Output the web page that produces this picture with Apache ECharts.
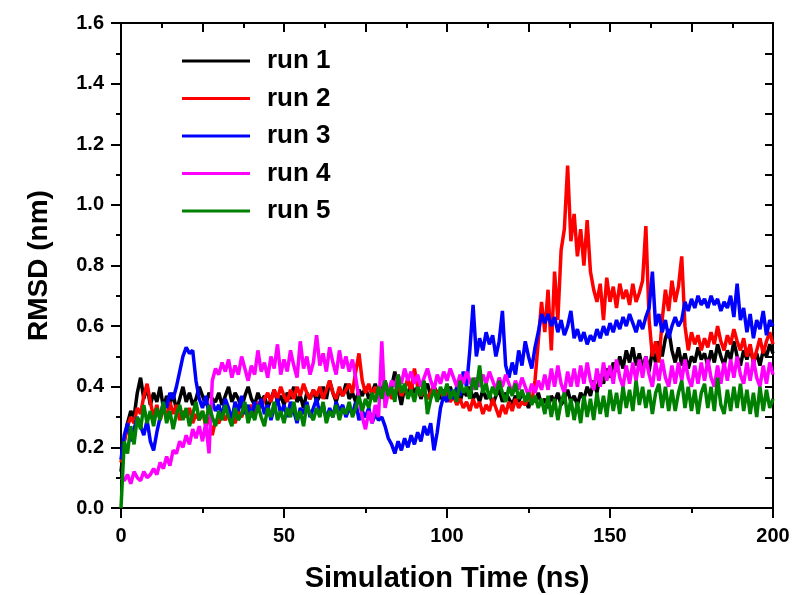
<!DOCTYPE html>
<html>
<head>
<meta charset="utf-8">
<script src="https://cdn.jsdelivr.net/npm/echarts@6/dist/echarts.min.js"></script>
<style>
html,body{margin:0;padding:0;background:#fff;}
#chart{width:796px;height:595px;}
</style>
</head>
<body>
<div id="chart"></div>
<script>
// Sampling step of the trajectories (ns); value i belongs to time i * TIME_STEP_NS
const TIME_STEP_NS = 1;
const seriesNames = ['run 1', 'run 2', 'run 3', 'run 4', 'run 5'];
const seriesColors = ['#000000', '#ff0000', '#0000ff', '#ff00ff', '#008000'];
const xTicks = [0, 50, 100, 150, 200];
const yTicks = [0.0, 0.2, 0.4, 0.6, 0.8, 1.0, 1.2, 1.4, 1.6];

const run1 = [
0.12,0.22,0.28,0.32,0.30,0.38,0.43,0.36,0.40,0.34,
0.38,0.35,0.40,0.33,0.37,0.34,0.38,0.32,0.36,0.40,
0.35,0.38,0.34,0.36,0.40,0.37,0.34,0.38,0.36,0.35,
0.38,0.34,0.37,0.40,0.35,0.38,0.36,0.33,0.37,0.40,
0.36,0.34,0.38,0.35,0.37,0.33,0.36,0.39,0.35,0.37,
0.34,0.38,0.36,0.40,0.35,0.37,0.33,0.38,0.36,0.39,
0.35,0.37,0.40,0.36,0.42,0.38,0.35,0.39,0.37,0.41,
0.36,0.38,0.35,0.39,0.37,0.40,0.36,0.38,0.41,0.37,
0.39,0.42,0.38,0.40,0.45,0.39,0.34,0.40,0.37,0.41,
0.38,0.40,0.36,0.39,0.41,0.37,0.40,0.38,0.36,0.39,
0.37,0.40,0.36,0.38,0.35,0.39,0.37,0.40,0.36,0.38,
0.35,0.39,0.36,0.38,0.34,0.37,0.39,0.35,0.38,0.36,
0.34,0.37,0.35,0.38,0.36,0.33,0.37,0.35,0.38,0.34,
0.36,0.33,0.37,0.35,0.38,0.34,0.36,0.39,0.35,0.37,
0.34,0.38,0.36,0.40,0.37,0.42,0.38,0.44,0.41,0.46,
0.43,0.48,0.45,0.50,0.46,0.52,0.48,0.53,0.47,0.51,
0.46,0.50,0.45,0.52,0.48,0.55,0.50,0.56,0.59,0.52,
0.48,0.53,0.47,0.51,0.46,0.50,0.48,0.53,0.49,0.51,
0.47,0.52,0.48,0.54,0.50,0.47,0.52,0.49,0.55,0.50,
0.47,0.52,0.49,0.53,0.48,0.51,0.47,0.52,0.50,0.54,
0.51];

const run2 = [
0.15,0.22,0.27,0.30,0.28,0.33,0.31,0.37,0.41,0.35,
0.30,0.34,0.29,0.33,0.30,0.35,0.31,0.34,0.29,0.32,
0.30,0.33,0.28,0.31,0.29,0.32,0.27,0.30,0.24,0.29,
0.28,0.31,0.29,0.32,0.30,0.28,0.32,0.30,0.33,0.31,
0.34,0.31,0.35,0.33,0.36,0.38,0.35,0.39,0.36,0.40,
0.37,0.35,0.39,0.36,0.40,0.37,0.41,0.38,0.36,0.39,
0.37,0.40,0.36,0.39,0.42,0.38,0.36,0.40,0.37,0.39,
0.41,0.38,0.45,0.51,0.42,0.38,0.41,0.37,0.40,0.36,
0.39,0.37,0.40,0.36,0.38,0.41,0.37,0.39,0.43,0.38,
0.46,0.40,0.37,0.39,0.36,0.38,0.40,0.37,0.39,0.36,
0.38,0.35,0.37,0.34,0.36,0.33,0.35,0.32,0.36,0.33,
0.35,0.31,0.34,0.32,0.36,0.33,0.30,0.34,0.31,0.35,
0.32,0.36,0.33,0.35,0.34,0.37,0.35,0.42,0.55,0.68,
0.58,0.72,0.52,0.78,0.62,0.85,0.92,1.13,0.88,0.97,
0.83,0.92,0.80,0.95,0.78,0.72,0.68,0.74,0.62,0.76,
0.68,0.73,0.66,0.74,0.69,0.72,0.67,0.74,0.68,0.71,
0.75,0.93,0.62,0.50,0.55,0.48,0.62,0.72,0.65,0.75,
0.68,0.73,0.83,0.60,0.52,0.58,0.54,0.57,0.52,0.56,
0.53,0.58,0.54,0.60,0.55,0.52,0.57,0.54,0.59,0.55,
0.52,0.56,0.50,0.54,0.48,0.52,0.56,0.51,0.55,0.58,
0.54];

const run3 = [
0.16,0.24,0.28,0.22,0.26,0.30,0.27,0.24,0.29,0.22,
0.19,0.25,0.30,0.35,0.33,0.38,0.36,0.40,0.45,0.50,
0.53,0.51,0.52,0.42,0.36,0.33,0.37,0.31,0.35,0.32,
0.34,0.30,0.36,0.33,0.29,0.35,0.32,0.37,0.31,0.34,
0.30,0.35,0.32,0.36,0.31,0.34,0.29,0.33,0.36,0.31,
0.34,0.30,0.35,0.32,0.28,0.33,0.31,0.35,0.30,0.33,
0.36,0.31,0.34,0.29,0.33,0.30,0.35,0.32,0.34,0.30,
0.33,0.31,0.35,0.29,0.32,0.30,0.33,0.28,0.31,0.29,
0.30,0.27,0.23,0.21,0.18,0.22,0.19,0.23,0.20,0.24,
0.21,0.25,0.22,0.27,0.24,0.28,0.19,0.25,0.33,0.37,
0.35,0.39,0.36,0.40,0.37,0.45,0.40,0.52,0.67,0.50,
0.56,0.52,0.58,0.54,0.57,0.50,0.55,0.65,0.47,0.43,
0.48,0.44,0.52,0.47,0.55,0.50,0.46,0.53,0.58,0.64,
0.61,0.64,0.60,0.63,0.58,0.62,0.57,0.60,0.65,0.56,
0.59,0.55,0.58,0.54,0.57,0.55,0.59,0.56,0.60,0.57,
0.61,0.58,0.62,0.59,0.63,0.60,0.64,0.61,0.58,0.62,
0.59,0.63,0.66,0.78,0.60,0.64,0.58,0.62,0.56,0.60,
0.63,0.60,0.62,0.68,0.65,0.69,0.66,0.70,0.67,0.69,
0.66,0.70,0.67,0.69,0.65,0.68,0.66,0.70,0.63,0.74,
0.62,0.66,0.58,0.64,0.56,0.62,0.59,0.65,0.57,0.62,
0.60];

const run4 = [
0.10,0.09,0.11,0.08,0.12,0.10,0.09,0.12,0.10,0.11,
0.13,0.11,0.15,0.13,0.17,0.14,0.19,0.18,0.22,0.20,
0.24,0.21,0.26,0.23,0.27,0.22,0.28,0.18,0.42,0.46,
0.44,0.48,0.45,0.49,0.43,0.47,0.44,0.50,0.46,0.42,
0.47,0.44,0.52,0.45,0.48,0.43,0.50,0.46,0.54,0.44,
0.49,0.45,0.52,0.47,0.43,0.55,0.46,0.50,0.44,0.48,
0.57,0.47,0.51,0.45,0.53,0.48,0.44,0.52,0.46,0.50,
0.45,0.49,0.43,0.36,0.30,0.26,0.32,0.28,0.34,0.30,
0.55,0.33,0.38,0.42,0.40,0.44,0.41,0.46,0.42,0.45,
0.41,0.44,0.40,0.43,0.46,0.42,0.39,0.44,0.41,0.45,
0.42,0.46,0.43,0.40,0.44,0.41,0.45,0.42,0.39,0.43,
0.40,0.44,0.41,0.45,0.42,0.39,0.43,0.40,0.44,0.41,
0.38,0.42,0.39,0.43,0.40,0.37,0.41,0.38,0.42,0.39,
0.44,0.39,0.46,0.40,0.47,0.41,0.38,0.45,0.40,0.46,
0.40,0.47,0.41,0.48,0.42,0.39,0.46,0.40,0.48,0.42,
0.47,0.41,0.49,0.43,0.40,0.47,0.41,0.48,0.42,0.49,
0.43,0.50,0.44,0.40,0.48,0.42,0.49,0.43,0.40,0.47,
0.41,0.48,0.42,0.49,0.43,0.40,0.47,0.41,0.48,0.42,
0.49,0.43,0.40,0.47,0.41,0.48,0.42,0.49,0.43,0.50,
0.44,0.41,0.48,0.42,0.49,0.43,0.40,0.47,0.41,0.48,
0.44];

const run5 = [
0.00,0.22,0.18,0.27,0.21,0.30,0.26,0.34,0.28,0.32,
0.27,0.33,0.29,0.35,0.28,0.32,0.26,0.31,0.34,0.29,
0.33,0.27,0.31,0.35,0.29,0.32,0.28,0.34,0.30,0.27,
0.32,0.29,0.34,0.30,0.27,0.33,0.29,0.31,0.35,0.28,
0.32,0.29,0.34,0.30,0.27,0.33,0.30,0.35,0.29,0.32,
0.28,0.33,0.30,0.35,0.29,0.32,0.27,0.34,0.31,0.29,
0.33,0.30,0.35,0.28,0.32,0.30,0.34,0.29,0.33,0.31,
0.35,0.30,0.33,0.37,0.32,0.36,0.33,0.38,0.35,0.40,
0.36,0.42,0.37,0.40,0.35,0.44,0.38,0.41,0.36,0.39,
0.35,0.40,0.37,0.42,0.31,0.36,0.39,0.35,0.40,0.37,
0.41,0.36,0.39,0.35,0.42,0.38,0.40,0.36,0.43,0.39,
0.47,0.38,0.41,0.36,0.40,0.37,0.42,0.38,0.35,0.40,
0.37,0.41,0.36,0.39,0.35,0.38,0.34,0.37,0.33,0.36,
0.31,0.37,0.30,0.36,0.29,0.35,0.38,0.30,0.36,0.29,
0.35,0.28,0.37,0.30,0.36,0.29,0.38,0.31,0.37,0.30,
0.39,0.32,0.38,0.31,0.40,0.33,0.39,0.32,0.42,0.34,
0.40,0.33,0.39,0.31,0.38,0.41,0.33,0.40,0.32,0.39,
0.32,0.38,0.42,0.33,0.40,0.32,0.39,0.31,0.38,0.41,
0.33,0.40,0.32,0.43,0.34,0.31,0.39,0.32,0.40,0.33,
0.41,0.32,0.39,0.31,0.38,0.30,0.40,0.32,0.39,0.33,
0.36];

const runs = [run1, run2, run3, run4, run5];

const FONT = "'Liberation Sans', Arial, sans-serif";
const chart = echarts.init(document.getElementById('chart'), null, {renderer: 'canvas'});

const axisLineStyle = {color: '#000', width: 2};
const xMin = xTicks[0], xMax = xTicks[xTicks.length - 1];
const yMin = yTicks[0], yMax = yTicks[yTicks.length - 1];

const option = {
  backgroundColor: '#ffffff',
  animation: false,
  grid: {left: 121, top: 23, width: 652, height: 485, containLabel: false, outerBoundsMode: 'none'},
  legend: {
    orient: 'vertical',
    left: 182,
    top: 46,
    padding: 0,
    icon: 'rect',
    itemWidth: 68,
    itemHeight: 3,
    itemGap: 7.5,
    data: seriesNames,
    textStyle: {
      fontFamily: FONT, fontWeight: 'bold', fontSize: 26, color: '#000',
      lineHeight: 30, padding: [0, 0, 0, 12]
    }
  },
  xAxis: [
    {
      type: 'value', position: 'bottom', min: xMin, max: xMax, interval: 50,
      name: 'Simulation Time (ns)', nameLocation: 'middle', nameGap: 56,
      nameTextStyle: {fontFamily: FONT, fontWeight: 'bold', fontSize: 29, color: '#000'},
      axisLine: {show: true, onZero: false, lineStyle: axisLineStyle},
      axisTick: {show: true, inside: false, length: 10, lineStyle: axisLineStyle},
      minorTick: {show: true, splitNumber: 2, length: 5, lineStyle: axisLineStyle},
      axisLabel: {show: true, margin: 18, fontFamily: FONT, fontWeight: 'bold', fontSize: 20, color: '#000'},
      splitLine: {show: false}, minorSplitLine: {show: false}
    },
    {
      type: 'value', position: 'top', min: xMin, max: xMax, interval: 25,
      axisLine: {show: true, onZero: false, lineStyle: axisLineStyle},
      axisTick: {show: true, inside: true, length: 9, lineStyle: axisLineStyle},
      minorTick: {show: true, splitNumber: 2, length: 5, lineStyle: axisLineStyle},
      axisLabel: {show: false},
      splitLine: {show: false}
    }
  ],
  yAxis: [
    {
      type: 'value', position: 'left', min: yMin, max: yMax, interval: 0.2,
      name: 'RMSD (nm)', nameLocation: 'middle', nameGap: 68, nameRotate: 90,
      nameTextStyle: {fontFamily: FONT, fontWeight: 'bold', fontSize: 28, color: '#000'},
      axisLine: {show: true, onZero: false, lineStyle: axisLineStyle},
      axisTick: {show: true, inside: false, length: 10, lineStyle: axisLineStyle},
      minorTick: {show: true, splitNumber: 2, length: 5, lineStyle: axisLineStyle},
      axisLabel: {show: true, margin: 17, fontFamily: FONT, fontWeight: 'bold', fontSize: 20, color: '#000',
        formatter: v => v.toFixed(1)},
      splitLine: {show: false}
    },
    {
      type: 'value', position: 'right', min: yMin, max: yMax, interval: 0.1,
      axisLine: {show: true, onZero: false, lineStyle: axisLineStyle},
      axisTick: {show: true, inside: true, length: 8, lineStyle: axisLineStyle},
      axisLabel: {show: false},
      splitLine: {show: false}
    }
  ],
  series: runs.map((vals, k) => ({
    name: seriesNames[k],
    type: 'line',
    xAxisIndex: 0,
    yAxisIndex: 0,
    symbol: 'none',
    showSymbol: false,
    color: seriesColors[k],
    lineStyle: {color: seriesColors[k], width: 3.5},
    itemStyle: {color: seriesColors[k]},
    data: vals.map((v, i) => [i * TIME_STEP_NS, v]),
    z: 2 + k
  }))
};
chart.setOption(option);
</script>
</body>
</html>
